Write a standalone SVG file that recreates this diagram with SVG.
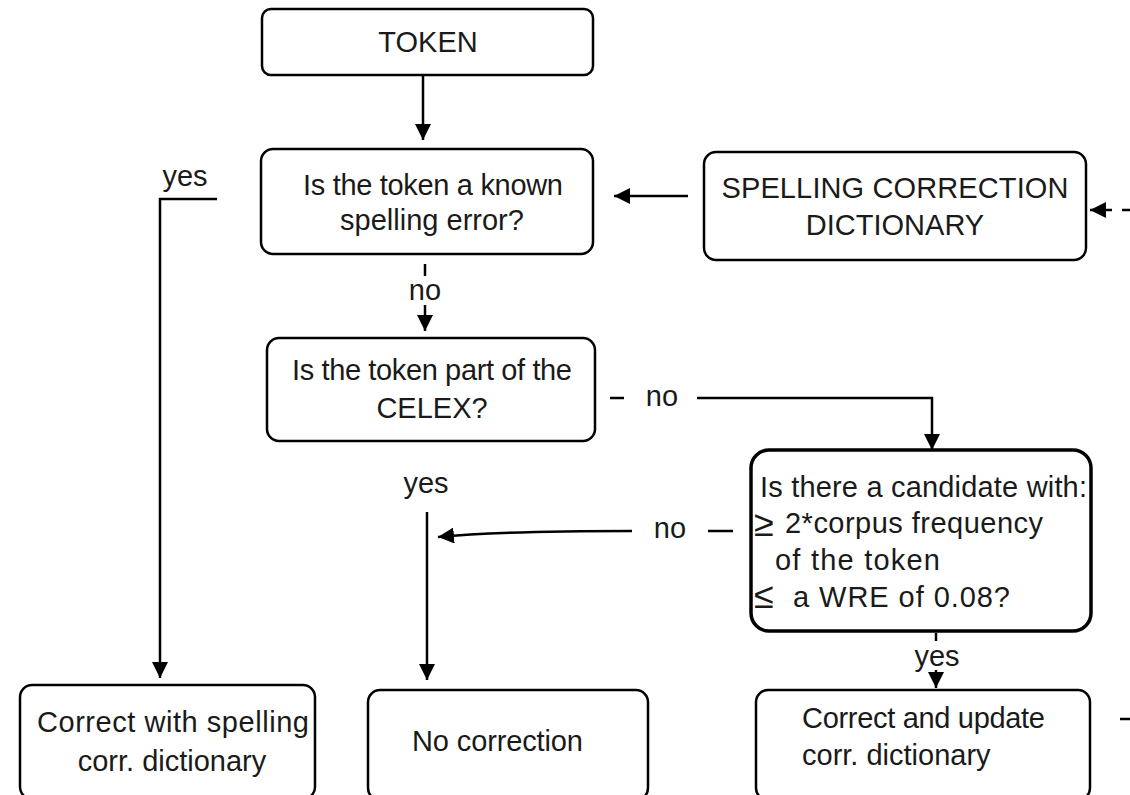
<svg xmlns="http://www.w3.org/2000/svg" width="1130" height="795" viewBox="0 0 1130 795">
<style>
.box{fill:#fff;stroke:#000;stroke-width:2.5}
.thick{stroke-width:3.5}
text{font-family:"Liberation Sans",Arial,sans-serif;font-size:29px;fill:#1a1a1a}
.c{text-anchor:middle}
.sym{font-size:36px}
.ln{fill:none;stroke:#000;stroke-width:2.5}
</style>
<defs>
<marker id="ah" markerUnits="userSpaceOnUse" markerWidth="18" markerHeight="16" refX="16" refY="8" orient="auto">
<path d="M0,0 L16,8 L0,16 Z" fill="#000"/>
</marker>
</defs>
<rect width="1130" height="795" fill="#fff"/>
<g id="token"><rect class="box" x="262" y="9" width="331" height="66" rx="9"/><text class="c" x="428" y="52">TOKEN</text></g>
<g id="q1"><rect class="box" x="261" y="149" width="332" height="105" rx="12"/><text class="c" x="433" y="195" textLength="260">Is the token a known</text><text class="c" x="432" y="230">spelling error?</text></g>
<g id="dict"><rect class="box" x="704" y="152" width="382" height="108" rx="12"/><text class="c" x="895" y="198" textLength="347">SPELLING CORRECTION</text><text class="c" x="895" y="235">DICTIONARY</text></g>
<g id="celex"><rect class="box" x="267" y="338" width="328" height="103" rx="12"/><text class="c" x="432" y="380" textLength="280">Is the token part of the</text><text class="c" x="432" y="418">CELEX?</text></g>
<g id="q3"><rect class="box thick" x="751" y="450" width="340" height="181" rx="18"/><text x="760" y="497" textLength="327">Is there a candidate with:</text><text class="sym" x="754" y="536" fill="#1a237e">≥</text><text x="785" y="533" textLength="258">2*corpus frequency</text><text x="775" y="570" textLength="165">of the token</text><text class="sym" x="754" y="608">≤</text><text x="793" y="607" textLength="217">a WRE of 0.08?</text></g>
<g id="corrdict"><rect class="box" x="20" y="685" width="295" height="114" rx="12"/><text class="c" x="173" y="732" textLength="272">Correct with spelling</text><text class="c" x="172" y="771">corr. dictionary</text></g>
<g id="nocorr"><rect class="box" x="368" y="690" width="280" height="110" rx="12"/><text x="412" y="751" textLength="171">No correction</text></g>
<g id="update"><rect class="box" x="756" y="690" width="334" height="110" rx="12"/><text x="802" y="728" textLength="243">Correct and update</text><text x="802" y="765">corr. dictionary</text></g>
<g id="connectors">
<line class="ln" x1="423" y1="75" x2="423" y2="140" marker-end="url(#ah)"/>
<line class="ln" x1="688" y1="196" x2="614" y2="196" marker-end="url(#ah)"/>
<line class="ln" x1="1112" y1="210" x2="1090" y2="210" marker-end="url(#ah)"/>
<line class="ln" x1="1122" y1="210" x2="1130" y2="210"/>
<polyline class="ln" points="217,199 160,199 160,678" marker-end="url(#ah)"/>
<text class="c" x="185" y="186">yes</text>
<line class="ln" x1="425" y1="264" x2="425" y2="276"/>
<text class="c" x="425" y="300">no</text>
<line class="ln" x1="425" y1="305" x2="425" y2="331" marker-end="url(#ah)"/>
<line class="ln" x1="610" y1="398" x2="624" y2="398"/>
<text class="c" x="662" y="406">no</text>
<polyline class="ln" points="697,398 932,398 932,450" marker-end="url(#ah)"/>
<text class="c" x="426" y="493">yes</text>
<line class="ln" x1="427" y1="512" x2="427" y2="680" marker-end="url(#ah)"/>
<line class="ln" x1="708" y1="531" x2="733" y2="531"/>
<text class="c" x="670" y="538">no</text>
<path class="ln" d="M632,531 C560,531 480,533 438,537" marker-end="url(#ah)"/>
<line class="ln" x1="936" y1="633" x2="936" y2="641"/>
<text class="c" x="937" y="666">yes</text>
<line class="ln" x1="936" y1="670" x2="936" y2="688" marker-end="url(#ah)"/>
<line class="ln" x1="1120" y1="719" x2="1130" y2="719"/>
</g>
</svg>
